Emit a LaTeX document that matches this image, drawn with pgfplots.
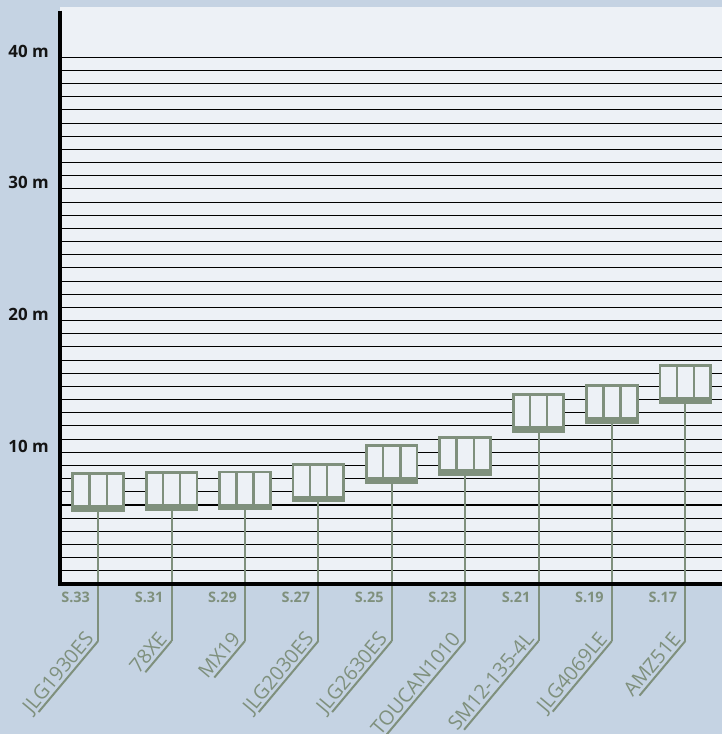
\documentclass[border=0pt]{standalone}
\usepackage{fontspec}
\setmainfont{Open Sans}
\usepackage{pgfplots}
\pgfplotsset{compat=1.18}
\usepackage{pgfplotstable}
\usetikzlibrary{calc}

\definecolor{outerbg}{HTML}{C5D3E3}
\definecolor{plotbg}{HTML}{EDF1F6}
\definecolor{pgreen}{HTML}{7F907D}

% x position, b = platform floor (bottom of dark band), band / body heights, low = end of leader stem
\pgfplotstableread{
x b band body low
0 5.60 0.3 2.5 -4.33
1 5.65 0.3 2.5 -4.33
2 5.70 0.3 2.5 -4.33
3 6.30 0.3 2.5 -4.33
4 7.70 0.3 2.5 -4.33
5 8.30 0.3 2.5 -4.33
6 11.60 0.3 2.5 -4.33
7 12.25 0.3 2.5 -4.33
8 13.80 0.3 2.5 -4.33
}\lifts

\pgfplotsset{common/.style={
  scale only axis, width=662bp, height=576.8bp,
  at={(60bp,150bp)}, anchor=south west,
  xmin=-0.52, xmax=8.5, ymin=0, ymax=43.8,
  clip=false,
}}

\tikzset{
  lbl/.style={rotate=50, anchor=south east, font=\fontsize{20}{20}\selectfont,
    text=pgreen, inner xsep=1bp, inner ysep=3.5bp, text depth=0bp},
  leader/.style={draw=pgreen, line width=2bp},
}
\newcommand{\lab}[3]{\node[lbl] (#1) at (axis cs:#2,-4.33) {#3};
  \draw[leader] (#1.south east) -- ($(#1.south west)!7bp!(#1.south east)$);}

\begin{document}
\begin{tikzpicture}
\fill[outerbg] (0,0) rectangle (722bp,734bp);
\useasboundingbox (0,0) rectangle (722bp,734bp);

\begin{axis}[common,
  axis background/.style={fill=plotbg},
  axis line style={draw=none},
  ybar stacked, bar width=0.69,
  /pgf/number format/assume math mode=true,
  ytick={10,20,30,40}, minor ytick={1,...,40},
  ymajorgrids, yminorgrids,
  major grid style={black, line width=1.05bp},
  minor grid style={black, line width=1.05bp},
  major tick length=0, minor tick length=0,
  yticklabel={\pgfmathprintnumber{\tick} m},
  yticklabel style={font=\bfseries\fontsize{17}{17}\selectfont, text=black!92,
    anchor=base east, inner sep=0pt, xshift=-11bp},
  xtick={0,...,8},
  xticklabels={S.33,S.31,S.29,S.27,S.25,S.23,S.21,S.19,S.17},
  xticklabel style={font=\bfseries\fontsize{14.5}{14.5}\selectfont, text=pgreen,
    anchor=east, inner sep=0pt, xshift=-8bp, yshift=-13.5bp},
]
\addplot[draw=none, fill=none] table[x=x, y=b] {\lifts};
\addplot[fill=pgreen, draw=pgreen, line width=2.7bp] table[x=x, y=band] {\lifts};
\addplot[fill=plotbg, draw=pgreen, line width=2.7bp] table[x=x, y=body] {\lifts};
\end{axis}

\begin{axis}[common, hide axis]
\addplot[ycomb, draw=pgreen, line width=2bp, mark=none] table[x=x, y=b] {\lifts};
\addplot[ycomb, draw=pgreen, line width=2bp, mark=none] table[x=x, y=low] {\lifts};
\addplot[draw=pgreen, line width=2.4bp, mark=none, quiver={u=0, v=2.5}]
  table[x expr=\thisrow{x}-0.117, y expr=\thisrow{b}+0.3] {\lifts};
\addplot[draw=pgreen, line width=2.4bp, mark=none, quiver={u=0, v=2.5}]
  table[x expr=\thisrow{x}+0.117, y expr=\thisrow{b}+0.3] {\lifts};
\draw[line width=3.7bp, black] (rel axis cs:0,0.994) -- (rel axis cs:0,0) -- (rel axis cs:1,0);
\lab{n0}{0}{JLG1930ES}
\lab{n1}{1}{78XE}
\lab{n2}{2}{MX19}
\lab{n3}{3}{JLG2030ES}
\lab{n4}{4}{JLG2630ES}
\lab{n5}{5}{TOUCAN1010}
\lab{n6}{6}{SM12-135-4L}
\lab{n7}{7}{JLG4069LE}
\lab{n8}{8}{AMZ51E}
\end{axis}
\end{tikzpicture}
\end{document}
